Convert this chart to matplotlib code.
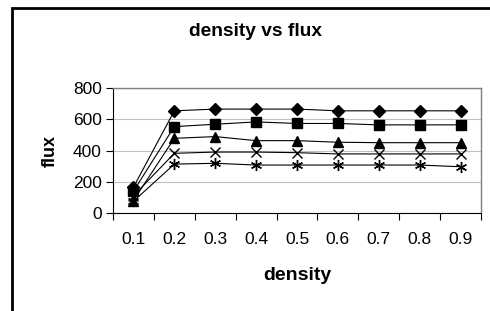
import matplotlib.pyplot as plt
from matplotlib.patches import Rectangle

plt.rcParams['font.family'] = ['Liberation Sans', 'DejaVu Sans']

density = ["0.1", "0.2", "0.3", "0.4", "0.5", "0.6", "0.7", "0.8", "0.9"]
flux_a = [165, 654, 665, 665, 665, 654, 654, 654, 654]
flux_b = [140, 553, 568, 583, 573, 573, 564, 564, 564]
flux_c = [80, 478, 489, 463, 463, 453, 450, 450, 450]
flux_d = [110, 382, 390, 390, 386, 378, 378, 378, 378]
flux_e = [75, 313, 318, 307, 307, 307, 307, 307, 296]

series = [
    (flux_a, "D", 6),
    (flux_b, "s", 7.5),
    (flux_c, "^", 7.5),
    (flux_d, "x", 7),
    (flux_e, (6, 2, 0), 8),
]

fig = plt.figure(figsize=(4.9, 3.11), dpi=100)
ax = fig.add_axes([113 / 490, 1 - 213 / 311, 368 / 490, 125 / 311])

x = list(range(1, len(density) + 1))
for vals, mk, ms in series:
    ax.plot(x, vals, color="black", lw=0.8, marker=mk, markersize=ms,
            markerfacecolor="black", markeredgecolor="black", markeredgewidth=1.0)

ax.set_xlim(0.5, len(density) + 0.5)
ax.set_ylim(0, 800)
ax.set_yticks([0, 200, 400, 600, 800])
ax.set_xticks(x)
ax.set_xticklabels(density)
ax.set_xticks([i + 0.5 for i in range(len(density) + 1)], minor=True)
ax.tick_params(axis="x", which="major", length=0, pad=14, labelsize=12.5)
ax.tick_params(axis="x", which="minor", length=5, width=0.8, direction="out")
ax.tick_params(axis="y", length=5, width=0.8, direction="out", pad=3, labelsize=12.5)
ax.yaxis.grid(True, color="#c0c0c0", lw=0.8)
ax.set_axisbelow(True)
for s in ["top", "right"]:
    ax.spines[s].set_color("#808080")
    ax.spines[s].set_linewidth(1.0)
for s in ["left", "bottom"]:
    ax.spines[s].set_color("black")
    ax.spines[s].set_linewidth(0.8)

ax.set_xlabel("density", fontsize=14, fontweight="bold", labelpad=14)
ax.set_ylabel("flux", fontsize=13, fontweight="bold", labelpad=10)
fig.text(255 / 490, 1 - 31 / 311, "density vs flux", fontsize=13.8,
         fontweight="bold", ha="center", va="center")

fig.patches.append(Rectangle((12 / 490, -0.1), 1.0, 1.1 - 8 / 311,
                             transform=fig.transFigure, fill=False,
                             edgecolor="black", lw=2.0))

fig.savefig("out.png", dpi=100)
